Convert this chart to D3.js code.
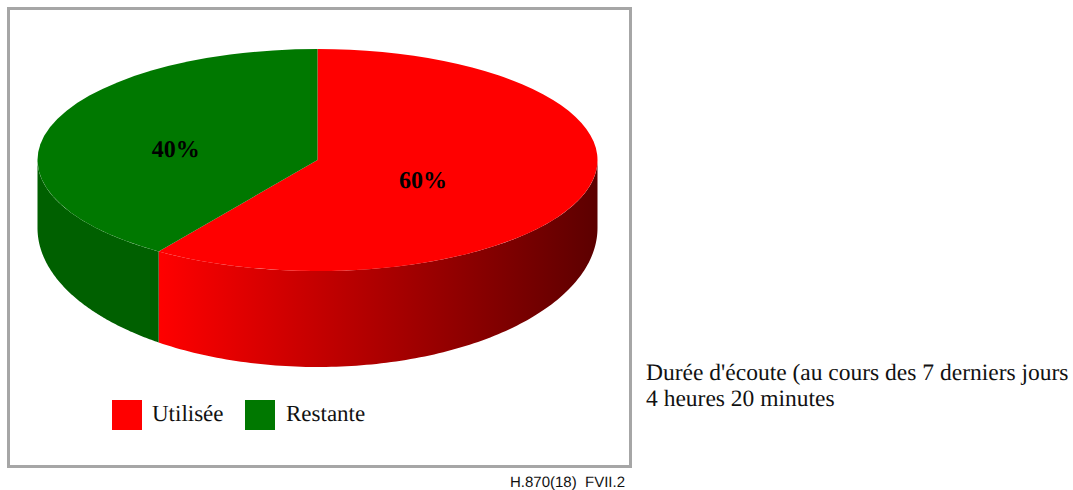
<!DOCTYPE html>
<html>
<head>
<meta charset="utf-8">
<script src="https://cdn.jsdelivr.net/npm/d3@7"></script>
<style>
  html, body { margin: 0; padding: 0; background: #fff; }
  svg { display: block; }
  text { text-rendering: geometricPrecision; }
</style>
</head>
<body>
<div id="chart"></div>
<script>
var categories = ["Utilisée", "Restante"];
var values = [59.6, 40.4];
var topColors = ["#ff0000", "#007800"];
var noteLines = ["Durée d'écoute (au cours des 7 derniers jours", "4 heures 20 minutes"];
var figureRef = "H.870(18)  FVII.2";

var width = 1073,
    height = 490;

var cx = 317.5,
    cy = 160,
    rx = 280,
    ry = 111,
    // the bottom rim is a rounder ellipse than the top one
    bottomCy = 228,
    bottomRy = 139;

var svg = d3.select("#chart").append("svg")
    .attr("width", width)
    .attr("height", height);

// frame
svg.append("rect")
    .attr("x", 8.5)
    .attr("y", 8.5)
    .attr("width", 622)
    .attr("height", 458)
    .attr("fill", "#fff")
    .attr("stroke", "#a6a6a6")
    .attr("stroke-width", 3);

// red side fades to dark from left to right
var defs = svg.append("defs");
var grad = defs.append("linearGradient")
    .attr("id", "redSide")
    .attr("gradientUnits", "userSpaceOnUse")
    .attr("x1", 159)
    .attr("x2", cx + rx)
    .attr("y1", 0)
    .attr("y2", 0);
grad.append("stop").attr("offset", "0%").attr("stop-color", "#ff0000");
grad.append("stop").attr("offset", "100%").attr("stop-color", "#5c0000");

var sideFills = ["url(#redSide)", "#006000"];

var pie = d3.pie().sort(null).value(function(d) { return d; });
var slices = pie(values);

function px(a) { return cx + rx * Math.sin(a); }
function py(a) { return cy - ry * Math.cos(a); }
function pyBottom(a) { return bottomCy - bottomRy * Math.cos(a); }

// visible wall of a slice: only the part of the rim facing the viewer
function sidePath(d) {
    var a0 = Math.max(d.startAngle, Math.PI / 2),
        a1 = Math.min(d.endAngle, Math.PI * 3 / 2);
    if (a1 <= a0) return null;
    var steps = d3.range(0, 121).map(function(i) { return a0 + (a1 - a0) * i / 120; });
    var upper = steps.map(function(a) { return [px(a), py(a)]; });
    var lower = steps.slice().reverse().map(function(a) { return [px(a), pyBottom(a)]; });
    return d3.line()(upper.concat(lower)) + "Z";
}

svg.selectAll(".side")
    .data(slices)
    .enter().append("path")
    .attr("class", "side")
    .attr("d", sidePath)
    .attr("fill", function(d, i) { return sideFills[i]; });

var arc = d3.arc().innerRadius(0).outerRadius(rx);

svg.append("g")
    .attr("transform", "translate(" + cx + "," + cy + ") scale(1," + (ry / rx) + ")")
    .selectAll(".top")
    .data(slices)
    .enter().append("path")
    .attr("class", "top")
    .attr("d", arc)
    .attr("fill", function(d, i) { return topColors[i]; });

// percent labels, pulled out along the middle of each slice
var labelRadius = [0.395, 0.53];
var pct = d3.format(".0%");
var total = d3.sum(values);
svg.selectAll(".pct")
    .data(slices)
    .enter().append("text")
    .attr("class", "pct")
    .attr("x", function(d) {
        var a = (d.startAngle + d.endAngle) / 2;
        return cx + labelRadius[d.index] * rx * Math.sin(a);
    })
    .attr("y", function(d) {
        var a = (d.startAngle + d.endAngle) / 2;
        return cy - labelRadius[d.index] * ry * Math.cos(a) + 14.5;
    })
    .attr("text-anchor", "middle")
    .attr("font-family", "'Liberation Serif', serif")
    .attr("font-weight", "bold")
    .attr("font-size", 24)
    .attr("fill", "#000")
    .text(function(d) { return pct(Math.round(d.value / total * 10) / 10); });

// legend
var legendX = [112, 245];
var legend = svg.selectAll(".legend")
    .data(categories)
    .enter().append("g")
    .attr("class", "legend")
    .attr("transform", function(d, i) { return "translate(" + legendX[i] + ",400)"; });
legend.append("rect")
    .attr("width", 30)
    .attr("height", 30)
    .attr("fill", function(d, i) { return topColors[i]; });
legend.append("text")
    .attr("x", function(d, i) { return i === 0 ? 40 : 41; })
    .attr("y", 21)
    .attr("font-family", "'Liberation Serif', serif")
    .attr("font-size", 23)
    .attr("fill", "#111")
    .text(function(d) { return d; });

// note at the right
svg.selectAll(".note")
    .data(noteLines)
    .enter().append("text")
    .attr("class", "note")
    .attr("x", 646)
    .attr("y", function(d, i) { return 380 + i * 26; })
    .attr("font-family", "'Liberation Serif', serif")
    .attr("font-size", 23.5)
    .attr("fill", "#111")
    .text(function(d) { return d; });

svg.append("text")
    .attr("x", 510)
    .attr("y", 487)
    .attr("font-family", "'Liberation Sans', sans-serif")
    .attr("font-size", 15)
    .attr("fill", "#111")
    .style("white-space", "pre")
    .text(figureRef);
</script>
</body>
</html>
